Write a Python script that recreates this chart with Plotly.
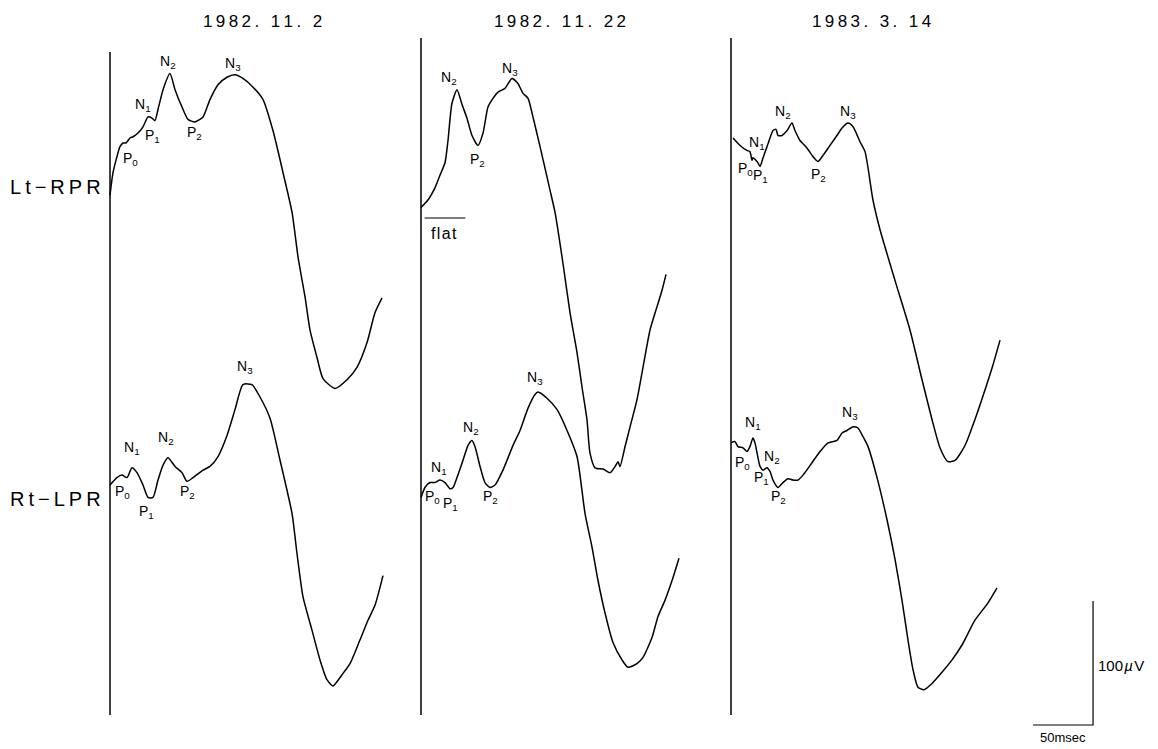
import plotly.graph_objects as go

dates = ["1982. 11. 2", "1982. 11. 22", "1983. 3. 14"]
row_names = ["Lt−RPR", "Rt−LPR"]

# ---- waveforms: time (msec) and potential (µV, negative = up) ----
# Lt-RPR 1982.11.2
lt1_ms = [0, 2.5, 5.8, 8.3, 10.8, 13.3, 16.7, 19.2, 23.3, 27.5, 31.7, 35, 37.5, 40, 44.2, 50,
          54.2, 60, 65, 70.8, 77.5, 83.3, 90, 97.5, 104.2, 110.8, 119.2, 127.5, 135.8, 144.2,
          151.7, 156.7, 162.5, 166.7, 172.5, 177.5, 187.5, 197.5, 205.8, 214.2, 220.8, 226.7]
lt1_uv = [-4, -22, -35, -43, -46, -46, -50, -51, -54, -59, -67, -66, -64, -73, -89, -102,
          -89, -75, -65, -63, -67, -81, -93, -99, -101, -98, -91, -81, -56, -22,
          10, 46, 78, 105, 127, 144, 152, 145, 135, 115, 91, 79]
# Rt-LPR 1982.11.2
rt1_ms = [0, 5.8, 10, 14.2, 18.3, 22.5, 27.5, 31.7, 35.8, 40, 44.2, 48.3, 54.2, 60, 64.2, 69.2,
          77.5, 83.3, 90, 97.5, 104.2, 110.8, 118.3, 125, 133.3, 141.7, 151.7, 155.8, 160.8,
          168.3, 175, 180.8, 185.8, 193.3, 200, 208.3, 215, 220.8, 227.5]
rt1_uv = [-4, -10, -12, -10, -18, -14, -4, 6, 6, -8, -20, -26, -19, -14, -7, -10,
          -16, -19, -27, -44, -65, -85, -85, -75, -58, -24, 19, 51, 86,
          113, 137, 153, 158, 149, 140, 121, 105, 93, 69]
# Lt-RPR 1982.11.22
lt2_ms = [0, 5.8, 11.7, 15.8, 20, 22.5, 25.8, 30, 34.2, 38.3, 42.5, 47.5, 51.7, 55.8, 60, 64.2,
          70, 75.8, 80.8, 85, 89.2, 93.3, 99.2, 107.5, 111.7, 118.3, 124.2, 130, 134.2, 138.3,
          140.8, 145, 151.7, 157.5, 161.7, 164.2, 165.8, 170, 174.2, 180, 185, 190.8, 196.7,
          200.8, 204.2]
lt2_uv = [6, 0, -10, -20, -30, -48, -78, -89, -77, -66, -52, -44, -54, -75, -82, -87,
          -90, -98, -94, -86, -82, -67, -43, -8, 10, 51, 91, 123, 151, 177,
          204, 216, 217, 220, 215, 211, 215, 199, 183, 161, 135, 105, 86,
          73, 60]
# Rt-LPR 1982.11.22
rt2_ms = [0, 3.3, 7.5, 11.7, 15.8, 20, 24.2, 26.7, 30, 35, 39.2, 42.5, 45, 49.2, 53.3, 57.5,
          61.7, 68.3, 76.7, 82.5, 89.2, 95, 97.5, 105, 113.3, 121.7, 130, 136.7, 142.5, 147.5,
          153.3, 160, 167.5, 172.5, 180, 185, 192.5, 197.5, 203.3, 209.2, 215]
rt2_uv = [6, -2, -6, -6, -8, -6, -1, -2, -10, -24, -36, -40, -35, -19, -6, -2,
          -4, -16, -36, -48, -66, -77, -79, -74, -65, -48, -27, 19, 46, 73,
          99, 123, 137, 143, 140, 135, 119, 102, 89, 73, 55]
# Lt-RPR 1983.3.14
lt3_ms = [1.7, 7.5, 13.3, 15.8, 17.5, 18.3, 21.7, 22.5, 24.2, 26.7, 30, 32.5, 35, 37.5, 39.2,
          42.5, 46.7, 50.8, 53.3, 57.5, 63.3, 68.3, 72.5, 76.7, 82.5, 88.3, 92.5, 97.5, 101.7,
          107.5, 111.7, 118.3, 124.2, 136.7, 149.2, 159.2, 167.5, 174.2, 180.8, 186.7, 195,
          203.3, 211.7, 218.3, 224.2]
lt3_uv = [-50, -44, -40, -39, -32, -34, -31, -30, -27, -34, -43, -50, -56, -57, -52,
          -52, -56, -62, -56, -48, -42, -35, -31, -36, -44, -52, -58, -62, -59,
          -47, -39, 0, 24, 65, 105, 145, 177, 200, 211, 210, 198,
          177, 153, 133, 113]
# Rt-LPR 1983.3.14
rt3_ms = [0, 3.3, 5.8, 10, 13.3, 15.8, 18.3, 20, 21.7, 24.2, 26.7, 30, 32.5, 35, 39.2, 43.3,
          47.5, 51.7, 55.8, 60, 67.5, 74.2, 80.8, 88.3, 92.5, 96.7, 101.7, 105.8, 110, 114.2,
          121.7, 130, 136.7, 142.5, 147.5, 151.7, 155.8, 160.8, 167.5, 175.8, 184.2, 192.5,
          203.3, 214.2, 221.7]
rt3_uv = [-38, -39, -35, -34, -31, -35, -42, -38, -30, -19, -16, -18, -15, -8, -2, -6,
          -9, -8, -8, -12, -22, -31, -38, -40, -46, -48, -51, -50, -43, -35,
          -10, 24, 56, 89, 121, 145, 159, 161, 156, 147, 137, 125,
          105, 91, 79]

# ---- peak labels: name, time (msec), potential (µV) of label centre ----
lt1_lab = ["P0", "N1", "P1", "N2", "P2", "N3"]
lt1_lab_ms = [16.7, 27.5, 35.8, 48.3, 70, 102.5]
lt1_lab_uv = [-33, -77, -52, -111, -54, -110]
rt1_lab = ["P0", "N1", "P1", "N2", "P2", "N3"]
rt1_lab_ms = [10.8, 18.3, 30.8, 46.7, 64.2, 112.5]
rt1_lab_uv = [2, -34, 18, -42, 2, -99]
lt2_lab = ["N2", "P2", "N3"]
lt2_lab_ms = [23.3, 47.5, 74.2]
lt2_lab_uv = [-98, -32, -106]
rt2_lab = ["P0", "N1", "P1", "N2", "P2", "N3"]
rt2_lab_ms = [10, 15, 24.2, 41.7, 58.3, 95]
rt2_lab_uv = [6, -18, 11, -50, 6, -90]
lt3_lab = ["P0", "N1", "P1", "N2", "P2", "N3"]
lt3_lab_ms = [11.7, 21.7, 24.2, 43.3, 72.5, 97.5]
lt3_lab_uv = [-25, -46, -19, -71, -20, -71]
rt3_lab = ["P0", "N1", "P1", "N2", "P2", "N3"]
rt3_lab_ms = [9.2, 18.3, 25.8, 34.2, 39.2, 99.2]
rt3_lab_uv = [-22, -54, -10, -27, 6, -62]

# calibration
cal_ms = 50
cal_uv = 100

# ---- layout geometry (reference pixels) ----
OFF = 8                      # page body margin
W, H = 1158 - OFF, 749 - OFF
PX_MS = 1.2
PX_UV = 1.24
col_zero_px = [110, 421, 731]
row_ref_px = [200, 490]
X_RANGE = [-10, 320]

FONT = "Liberation Sans"


def px_x(p):
    return (p - OFF) / W


def px_y(p):
    return 1 - (p - OFF) / H


fig = go.Figure()

waves = [
    [(lt1_ms, lt1_uv, lt1_lab, lt1_lab_ms, lt1_lab_uv), (rt1_ms, rt1_uv, rt1_lab, rt1_lab_ms, rt1_lab_uv)],
    [(lt2_ms, lt2_uv, lt2_lab, lt2_lab_ms, lt2_lab_uv), (rt2_ms, rt2_uv, rt2_lab, rt2_lab_ms, rt2_lab_uv)],
    [(lt3_ms, lt3_uv, lt3_lab, lt3_lab_ms, lt3_lab_uv), (rt3_ms, rt3_uv, rt3_lab, rt3_lab_ms, rt3_lab_uv)],
]

annotations = []
shapes = []


def sub(name):
    return f"{name[0]}<sub>{name[1:]}</sub>"


for c, col in enumerate(waves):
    xa = "x" if c == 0 else f"x{c+1}"
    for r, (ms, uv, lab, lab_ms, lab_uv) in enumerate(col):
        ya = "y" if r == 0 else "y2"
        fig.add_trace(go.Scatter(
            x=ms, y=uv, xaxis=xa, yaxis=ya, mode="lines",
            line=dict(color="black", width=1.5, shape="spline", smoothing=0.6),
            showlegend=False, hoverinfo="skip", cliponaxis=False))
        for n, tx, vy in zip(lab, lab_ms, lab_uv):
            annotations.append(dict(
                x=tx, y=vy, xref=xa, yref=ya, text=sub(n), showarrow=False,
                font=dict(family=FONT, size=14, color="black"),
                xanchor="center", yanchor="middle"))
    # stimulus marker line at t = 0
    shapes.append(dict(type="line", xref=xa, yref="y", x0=0, x1=0,
                       y0=(715 - row_ref_px[0]) / PX_UV,
                       y1=((52 if c == 0 else 38) - row_ref_px[0]) / PX_UV,
                       line=dict(color="black", width=1.5)))

# "flat" reference line in column 2
shapes.append(dict(type="line", xref="x2", yref="y", x0=3, x1=37, y0=14.5, y1=14.5,
                   line=dict(color="black", width=1.2)))
annotations.append(dict(x=19, y=27, xref="x2", yref="y", text="f\u200Al\u200Aa\u200At",
                        showarrow=False, xanchor="center",
                        font=dict(family=FONT, size=16, color="black")))

# calibration bars on column 3 / lower row axes
cal_t0 = 251.7
cal_v0 = 189.5
fig.add_trace(go.Scatter(
    x=[cal_t0, cal_t0 + cal_ms, cal_t0 + cal_ms],
    y=[cal_v0, cal_v0, cal_v0 - cal_uv],
    xaxis="x3", yaxis="y2", mode="lines",
    line=dict(color="black", width=1.2), showlegend=False, hoverinfo="skip",
    cliponaxis=False))
annotations.append(dict(x=cal_t0 + cal_ms, y=cal_v0 - cal_uv / 2 + 2, xref="x3", yref="y2",
                        text=f"100\u200A<i>µ</i>\u200AV", showarrow=False, xanchor="left",
                        xshift=3, font=dict(family=FONT, size=15, color="black")))
annotations.append(dict(x=cal_t0 + cal_ms / 2, y=cal_v0, xref="x3", yref="y2",
                        text=f"{cal_ms}msec", showarrow=False, yanchor="top", yshift=-3,
                        font=dict(family=FONT, size=13, color="black")))

# titles
thin = "\u2009"
title_px = [262, 560, 872]
for d, px in zip(dates, title_px):
    annotations.append(dict(x=px_x(px), y=px_y(22), xref="paper", yref="paper",
                            text=thin.join(list(d)), showarrow=False,
                            xanchor="center", yanchor="middle",
                            font=dict(family=FONT, size=17, color="black")))
row_label_px = [187, 499]
for nm, py in zip(row_names, row_label_px):
    annotations.append(dict(x=0, y=px_y(py), xref="paper", yref="paper",
                            text=thin.join(list(nm)), showarrow=False, xanchor="left",
                            yanchor="middle",
                            font=dict(family=FONT, size=20, color="black")))

layout_axes = {}
for c, z in enumerate(col_zero_px):
    key = "xaxis" if c == 0 else f"xaxis{c+1}"
    start = z - OFF - (0 - X_RANGE[0]) * PX_MS
    end = start + (X_RANGE[1] - X_RANGE[0]) * PX_MS
    layout_axes[key] = dict(domain=[start / W, end / W], range=X_RANGE, visible=False,
                            anchor="y", fixedrange=True)
for r, ref in enumerate(row_ref_px):
    key = "yaxis" if r == 0 else "yaxis2"
    layout_axes[key] = dict(domain=[0, 1],
                            range=[(OFF + H - ref) / PX_UV, (OFF - ref) / PX_UV],
                            visible=False, anchor="x", fixedrange=True)

fig.update_layout(
    width=W, height=H, margin=dict(l=0, r=0, t=0, b=0),
    paper_bgcolor="white", plot_bgcolor="rgba(0,0,0,0)",
    annotations=annotations, shapes=shapes, **layout_axes)

fig.write_html("out.html")
